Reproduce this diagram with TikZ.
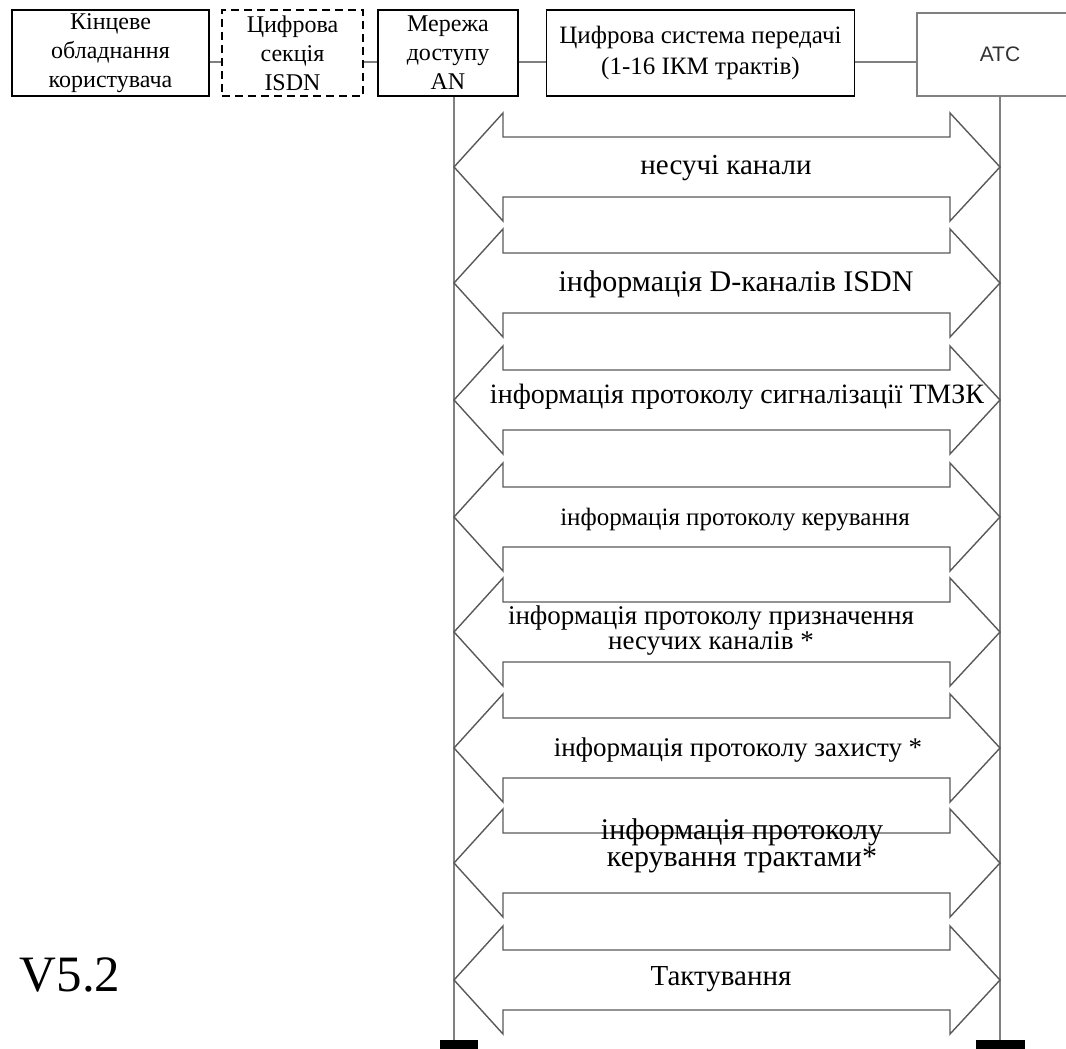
\documentclass[tikz,border=0pt]{standalone}
\usepackage{fontspec}
\setmainfont{Liberation Serif}
\newfontfamily\arialfont{Liberation Sans}
\definecolor{linegray}{gray}{0.5}
\definecolor{arrowgray}{gray}{0.35}
\begin{document}
\begin{tikzpicture}[x=1pt, y=-1pt]
\tikzset{ box/.style={draw, line width=1.6pt, minimum height=86pt, inner sep=0pt, align=center, font=\fontsize{24}{29}\selectfont},
  link/.style={draw=linegray, line width=1.8pt},
  vline/.style={draw=linegray, line width=1.8pt},
  dblarrow/.style={draw=arrowgray, line width=1.4pt, line join=miter},
  lbl/.style={inner sep=0pt, align=center, font=\fontsize{29}{25}\selectfont},
}

\useasboundingbox (0,0) rectangle (1066,1049);
\clip (0,0) rectangle (1066,1049);

%\draw [lightgray, dashed](0,0) grid (1066,1049);

\node [box, minimum width=197pt] (U) at (110.5,53) {Кінцеве\\обладнання\\користувача};
\node [box, dashed, dash pattern=on 8pt off 5pt, minimum width=141pt] (S) at (292.5,53) {Цифрова\\секція\\ISDN};
\node [box, minimum width=140pt] (AN) at (448,53) {Мережа\\доступу\\AN};
\node [box, minimum width=308pt, font=\fontsize{25}{31}\selectfont] (DS) at (700.5,53) {Цифрова система передачі\\(1-16 ІКМ трактів)};
\node [box, draw=gray, line width=1.2pt, minimum width=166pt, minimum height=83pt, text=black!80,
       font=\arialfont\fontsize{21}{25}\selectfont] (ATC) at (1000,54.5) {АТС};

\draw [link] ([yshift=-9pt]U.east)   -- ([yshift=-9pt]S.west);
\draw [link] ([yshift=-9pt]S.east)   -- ([yshift=-9pt]AN.west);
\draw [link] ([yshift=-9pt]AN.east)  -- ([yshift=-9pt]DS.west);
\draw [link] ([yshift=-9pt]DS.east)  -- ([yshift=-9pt]DS.east -| ATC.west);

\coordinate (ANfoot)  at (454,1049);
\coordinate (ATCfoot) at (1000,1049);
\draw [vline] (AN.south -| ANfoot) -- (ANfoot);
\draw [vline] (ATC.south) -- (ATCfoot);

\fill (440,1040) rectangle (478,1049);
\fill (976,1040) rectangle (1025,1049);

% double arrows, tip heights
\foreach \t in {167,283,400,517,632,748,863,980}
  \draw [dblarrow] (503,\t-54) -- (454,\t) -- (503,\t+54) -- (503,\t+30) -- (950,\t+30)
     -- (950,\t+54) -- (1000,\t) -- (950,\t-54) -- (950,\t-30) -- (503,\t-30) -- cycle;

\node [lbl] (B1) at (726,168) {несучі канали};
\node [lbl, font=\fontsize{30}{25}\selectfont] (B2) at (736,284) {інформація D-каналів ISDN};
\node [lbl, font=\fontsize{28}{25}\selectfont] (B3) at (737,397) {інформація протоколу сигналізації ТМЗК};
\node [lbl, font=\fontsize{25}{25}\selectfont] (B4) at (735,520) {інформація протоколу керування};
\node [lbl, font=\fontsize{27}{25}\selectfont] (B5) at (711,631) {інформація протоколу призначення\\несучих каналів *};
\node [lbl, font=\fontsize{27}{25}\selectfont] (B6) at (738,750) {інформація протоколу захисту *};
\node [lbl, font=\fontsize{30}{24}\selectfont] (B7) at (742,846) {інформація протоколу\\керування трактами*};
\node [lbl] (B8) at (721,979) {Тактування};

\node [font=\fontsize{51}{51}\selectfont] (V) at (70,975) {V5.2};

\end{tikzpicture}
\end{document}
